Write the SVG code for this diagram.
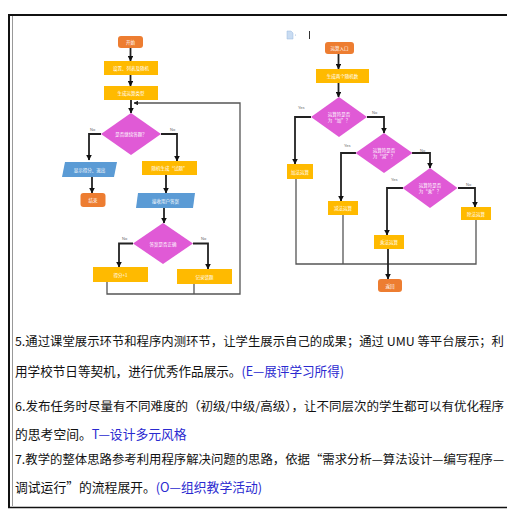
<svg xmlns="http://www.w3.org/2000/svg" width="507" height="509" viewBox="0 0 507 509">
<defs>
<style>
.or{fill:#ED7D31}
.ye{fill:#FFBA00}
.mg{fill:#E05AD6}
.bl{fill:#5B9BD5}
.nt{font-family:"Noto Sans CJK SC","Noto Sans",sans-serif;font-size:4.5px;fill:#fff;text-anchor:middle;dominant-baseline:central}
.lb{font-family:"Liberation Sans",sans-serif;font-size:4px;fill:#666}
.cl{fill:none;stroke:#222;stroke-width:1.8}
.cr{fill:none;stroke:#555;stroke-width:1.3}
.tx{font-family:"Noto Sans CJK SC",sans-serif;font-size:12.8px;fill:#111}
.tw{font-size:12.2px}
.bu{fill:#2a2ad0}
</style>
<marker id="ah" viewBox="0 0 10 10" refX="9" refY="5" markerWidth="3.2" markerHeight="3.2" orient="auto"><path d="M0,0 L10,5 L0,10 z" fill="#111"/></marker>
<marker id="ah2" viewBox="0 0 10 10" refX="9" refY="5" markerWidth="3.6" markerHeight="3.6" orient="auto"><path d="M0,0 L10,5 L0,10 z" fill="#222"/></marker>
</defs>
<rect width="507" height="509" fill="#fff"/>
<!-- frame -->
<g id="frame">
<line x1="8" y1="15" x2="507" y2="15" stroke="#111" stroke-width="2"/>
<line x1="9" y1="14" x2="9" y2="508" stroke="#111" stroke-width="2"/>
<line x1="12.5" y1="16" x2="12.5" y2="506" stroke="#999" stroke-width="1"/>
<line x1="8" y1="507.5" x2="507" y2="507.5" stroke="#111" stroke-width="1.5"/>
</g>
<!-- connectors -->
<g id="connectors">
<line class="cl" x1="130.5" y1="48" x2="130.5" y2="61" marker-end="url(#ah)"/>
<line class="cl" x1="130.5" y1="75" x2="130.5" y2="86" marker-end="url(#ah)"/>
<line class="cl" x1="131" y1="100" x2="131" y2="113" marker-end="url(#ah)"/>
<polyline class="cl" points="101,134 89,134 89,160" marker-end="url(#ah)"/>
<polyline class="cl" points="161,134 177,134 177,161" marker-end="url(#ah)"/>
<line class="cl" x1="92" y1="177" x2="92" y2="193" marker-end="url(#ah)"/>
<line class="cl" x1="166" y1="175" x2="166" y2="193" marker-end="url(#ah)"/>
<line class="cl" x1="164" y1="208" x2="164" y2="223" marker-end="url(#ah)"/>
<polyline class="cl" points="133,243.5 119,243.5 119,267" marker-end="url(#ah)"/>
<polyline class="cl" points="193,243.5 208,243.5 208,269" marker-end="url(#ah)"/>
<polyline class="cr" points="107,282 107,294 240,294 240,103 134,103" marker-end="url(#ah2)"/>
<line class="cr" x1="194" y1="284" x2="194" y2="294"/>
<text class="lb" x="90" y="131">No</text>
<text class="lb" x="170" y="131">No</text>
<text class="lb" x="122" y="240">No</text>
<text class="lb" x="201" y="240">No</text>

<line class="cl" x1="338.5" y1="54" x2="338.5" y2="69" marker-end="url(#ah)"/>
<line class="cl" x1="338.5" y1="83" x2="338.5" y2="97" marker-end="url(#ah)"/>
<polyline class="cl" points="311,117 295,117 295,164" marker-end="url(#ah)"/>
<polyline class="cl" points="367,117 384,117 384,133" marker-end="url(#ah)"/>
<polyline class="cl" points="356,153 341,153 341,201" marker-end="url(#ah)"/>
<polyline class="cl" points="412,153 430,153 430,168" marker-end="url(#ah)"/>
<polyline class="cl" points="403,188 387,188 387,235" marker-end="url(#ah)"/>
<polyline class="cl" points="458,188 475,188 475,207" marker-end="url(#ah)"/>
<polyline class="cr" points="296,179 296,264 476,264 476,220"/>
<line class="cr" x1="343" y1="215" x2="343" y2="264"/>
<line class="cl" x1="388" y1="249" x2="388" y2="279" marker-end="url(#ah)"/>
<text class="lb" x="298" y="109">Yes</text>
<text class="lb" x="372" y="114">No</text>
<text class="lb" x="344" y="147">Yes</text>
<text class="lb" x="420" y="152">No</text>
<text class="lb" x="391" y="181">Yes</text>
<text class="lb" x="466" y="186">No</text>
</g>
<!-- left flowchart nodes -->
<g id="start"><rect class="or" x="118" y="36" width="25" height="12" rx="3"/><text class="nt" x="130.5" y="42">开始</text></g>
<g id="init"><rect class="ye" x="104" y="61" width="54" height="14"/><text class="nt" x="131" y="68">设置、列表及随机</text></g>
<g id="gen"><rect class="ye" x="104" y="86" width="54" height="14"/><text class="nt" x="131" y="93">生成运算类型</text></g>
<g id="d1"><polygon class="mg" points="131,113 161,134 131,155 101,134"/><text class="nt" x="131" y="134">是否继续答题？</text></g>
<g id="show"><polygon class="bl" points="65,162 117,162 114,177 62,177"/><text class="nt" x="89.5" y="169.5">显示得分、退出</text></g>
<g id="end"><rect class="or" x="80.5" y="193" width="25" height="14" rx="3"/><text class="nt" x="93" y="200">结束</text></g>
<g id="pick"><rect class="ye" x="142" y="161" width="55" height="14"/><text class="nt" x="169.5" y="168">随机生成“试题”</text></g>
<g id="input"><polygon class="bl" points="138,193 195,193 193,208 136,208"/><text class="nt" x="165.5" y="200.5">接收用户答案</text></g>
<g id="d2"><polygon class="mg" points="163,223 193,243.5 163,264 133,243.5"/><text class="nt" x="163" y="243.5">答案是否正确</text></g>
<g id="score"><rect class="ye" x="93" y="267" width="55" height="15"/><text class="nt" x="120.5" y="274.5">得分+1</text></g>
<g id="wrong"><rect class="ye" x="177" y="269" width="55" height="15"/><text class="nt" x="204.5" y="276.5">记录错题</text></g>
<!-- right flowchart nodes -->
<g id="icon"><path d="M287,31 h4 l2,2 v6 h-6 z" fill="#c9dcf2" stroke="#9bb8de" stroke-width="0.5"/><circle cx="295.5" cy="35" r="0.6" fill="#9bb8de"/><line x1="309.5" y1="31" x2="309.5" y2="39" stroke="#333" stroke-width="1"/></g>
<g id="entry"><rect class="or" x="325" y="42" width="29" height="12" rx="3"/><text class="nt" x="339.5" y="48">运算入口</text></g>
<g id="rand2"><rect class="ye" x="316" y="69" width="53" height="14"/><text class="nt" x="342.5" y="76">生成两个随机数</text></g>
<g id="da"><polygon class="mg" points="339,97 367,117 339,137 311,117"/><text class="nt" x="339" y="114">运算符是否</text><text class="nt" x="339" y="120">为“加”？</text></g>
<g id="db"><polygon class="mg" points="384,133 412.5,153 384,173 355.5,153"/><text class="nt" x="384" y="150">运算符是否</text><text class="nt" x="384" y="156">为“减”？</text></g>
<g id="dc"><polygon class="mg" points="430,168 457.5,188 430,208 402.5,188"/><text class="nt" x="430" y="185">运算符是否</text><text class="nt" x="430" y="191">为“乘”？</text></g>
<g id="add"><rect class="ye" x="287" y="164" width="26" height="15"/><text class="nt" x="300" y="171.5">加法运算</text></g>
<g id="sub"><rect class="ye" x="328" y="201" width="30" height="14"/><text class="nt" x="343" y="208">减法运算</text></g>
<g id="mul"><rect class="ye" x="374" y="235" width="30" height="14"/><text class="nt" x="389" y="242">乘法运算</text></g>
<g id="div"><rect class="ye" x="461" y="207" width="30" height="13"/><text class="nt" x="476" y="213.5">除法运算</text></g>
<g id="ret"><rect class="or" x="378" y="279" width="24" height="13" rx="3"/><text class="nt" x="390" y="285.5">返回</text></g>
<!-- paragraph text -->
<g id="para">
<text class="tx tw" x="15" y="346" textLength="489" lengthAdjust="spacingAndGlyphs">5.通过课堂展示环节和程序内测环节，让学生展示自己的成果；通过 UMU 等平台展示；利</text>
<text class="tx" x="15" y="376" textLength="329" lengthAdjust="spacingAndGlyphs">用学校节日等契机，进行优秀作品展示。<tspan class="bu">(E—展评学习所得)</tspan></text>
<text class="tx tw" x="15" y="411" textLength="489" lengthAdjust="spacingAndGlyphs">6.发布任务时尽量有不同难度的（初级/中级/高级），让不同层次的学生都可以有优化程序</text>
<text class="tx" x="15" y="439">的思考空间。<tspan class="bu">T—设计多元风格</tspan></text>
<text class="tx tw" x="15" y="464" textLength="489" lengthAdjust="spacingAndGlyphs">7.教学的整体思路参考利用程序解决问题的思路，依据“需求分析—算法设计—编写程序—</text>
<text class="tx" x="15" y="492">调试运行”的流程展开。<tspan class="bu">(O—组织教学活动)</tspan></text>
</g>
</svg>
